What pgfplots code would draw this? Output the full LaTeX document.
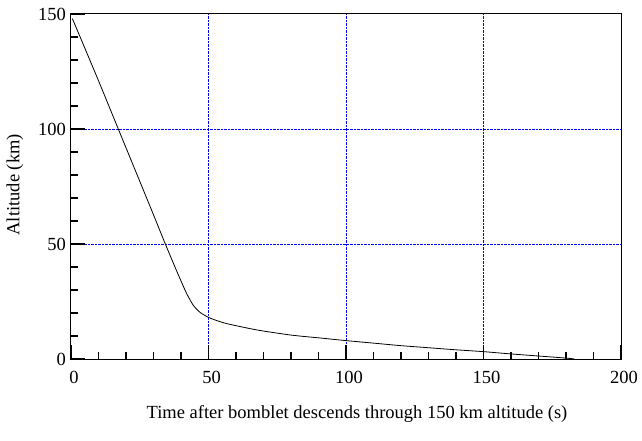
\documentclass[border=0pt]{standalone}
\usepackage{fontspec}
\setmainfont{Liberation Serif}
\usepackage{pgfplots}
\pgfplotsset{compat=1.18}
\begin{document}
\begin{tikzpicture}
\begin{axis}[
  at={(0pt,0pt)}, anchor=south west,
  scale only axis, width=550pt, height=345pt,
  xmin=0, xmax=200, ymin=0, ymax=150,
  xtick={50,100,150}, ytick={50,100},
  extra x ticks={0,200}, extra y ticks={0,150},
  extra tick style={grid=none},
  minor xtick={10,20,30,40,60,70,80,90,110,120,130,140,160,170,180,190},
  minor ytick={10,20,30,40,60,70,80,90,110,120,130,140},
  xtick pos=bottom, ytick pos=left,
  tick align=inside,
  major tick length=14pt, minor tick length=7pt,
  every tick/.style={black, line width=1.2pt},
  axis line style={line width=1pt},
  xmajorgrids, ymajorgrids,
  major grid style={blue, densely dotted, line width=0.6pt},
  /pgf/number format/assume math mode=true,
  ticklabel style={font=\fontsize{18.5}{20}\selectfont},
  xticklabel style={yshift=-9pt, xshift=3pt},
  yticklabel style={xshift=-1.5pt},
  label style={font=\fontsize{18.5}{20}\selectfont},
  xlabel={Time after bomblet descends through 150 km altitude (s)},
  ylabel={Altitude (km)},
  xlabel style={at={(axis description cs:0.52,-0.172)}, anchor=base},
  ylabel style={at={(axis description cs:-0.102,0.505)}, anchor=center},
]
\addplot[black, line width=0.8pt, smooth, tension=0.4] coordinates {
(0.5,148) (10,121) (17.2,100) (28.7,66.5) (34.2,50.3) (37,42.3)
(39.5,35.3) (42,28.6) (44.5,23.3) (47,20.2) (50,18.1) (53,16.7) (56.6,15.4)
(62.7,13.8) (68.7,12.4) (80,10.4) (90,9.2) (100,8.0) (110,6.9) (120,5.8)
(130,4.9) (140,4.0) (150,3.2) (160,2.2) (170,1.3) (180,0.4) (183,0)
};
\end{axis}
\pgfresetboundingbox
\path[use as bounding box] (-71pt,-82pt) rectangle (571pt,359pt);
\end{tikzpicture}
\end{document}
